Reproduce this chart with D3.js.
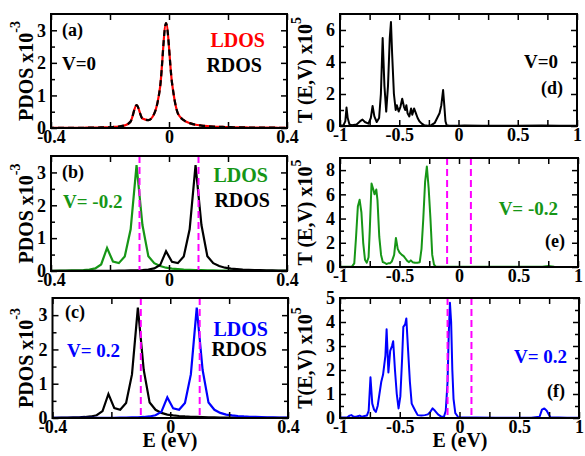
<!DOCTYPE html>
<html>
<head>
<meta charset="utf-8">
<script src="https://cdn.jsdelivr.net/npm/d3@7"></script>
<style>
  body { margin: 0; background: #fff; }
  svg text { font-family: "Liberation Serif", "Times New Roman", serif; font-weight: bold; }
</style>
</head>
<body>
<svg></svg>
<script>
// energy grid for the PDOS panels (eV)
var eGrid = [-0.41,-0.39,-0.37,-0.35,-0.33,-0.31,-0.29,-0.27,-0.25,-0.23,-0.21,-0.19,-0.17,-0.15,-0.13,-0.11,-0.09,-0.07,-0.05,-0.03,-0.01,
             0.01,0.03,0.05,0.07,0.09,0.11,0.13,0.15,0.17,0.19,0.21,0.23,0.25,0.27,0.29,0.31,0.33,0.35,0.37,0.39,0.41];

// PDOS x10^-3, V = 0 (LDOS and RDOS coincide)
var ldosA = [0.003,0.004,0.004,0.005,0.006,0.007,0.008,0.01,0.013,0.017,0.022,0.03,0.045,0.08,0.2,0.7,0.29,0.24,0.44,1.27,3.22,
             1.4,0.45,0.24,0.15,0.1,0.075,0.058,0.045,0.036,0.03,0.025,0.021,0.018,0.015,0.013,0.011,0.01,0.009,0.008,0.007,0.006];
var rdosA = [0.003,0.004,0.004,0.005,0.006,0.007,0.008,0.01,0.013,0.017,0.022,0.03,0.045,0.08,0.2,0.7,0.29,0.24,0.44,1.27,3.22,
             1.4,0.45,0.24,0.15,0.1,0.075,0.058,0.045,0.036,0.03,0.025,0.021,0.018,0.015,0.013,0.011,0.01,0.009,0.008,0.007,0.006];

// V = -0.2
var ldosB = [0.007,0.008,0.01,0.013,0.017,0.022,0.03,0.045,0.08,0.2,0.7,0.29,0.24,0.44,1.27,3.22,1.4,0.45,0.24,0.15,0.1,
             0.075,0.058,0.045,0.036,0.03,0.025,0.021,0.018,0.015,0.013,0.011,0.01,0.009,0.008,0.007,0.006,0.006,0.005,0.005,0.004,0.004];
var rdosB = [0.002,0.002,0.002,0.003,0.003,0.003,0.004,0.004,0.005,0.006,0.007,0.008,0.01,0.013,0.017,0.022,0.03,0.045,0.08,0.18,0.6,
             0.28,0.24,0.44,1.27,3.22,1.4,0.45,0.24,0.15,0.1,0.075,0.058,0.045,0.036,0.03,0.025,0.021,0.018,0.015,0.013,0.011];

// V = 0.2
var ldosC = [0.002,0.002,0.002,0.003,0.003,0.003,0.004,0.004,0.005,0.006,0.007,0.008,0.01,0.013,0.017,0.022,0.03,0.045,0.08,0.18,0.6,
             0.28,0.24,0.44,1.27,3.22,1.4,0.45,0.24,0.15,0.1,0.075,0.058,0.045,0.036,0.03,0.025,0.021,0.018,0.015,0.013,0.011];
var rdosC = [0.007,0.008,0.01,0.013,0.017,0.022,0.03,0.045,0.08,0.2,0.7,0.29,0.24,0.44,1.27,3.22,1.4,0.45,0.24,0.15,0.1,
             0.075,0.058,0.045,0.036,0.03,0.025,0.021,0.018,0.015,0.013,0.011,0.01,0.009,0.008,0.007,0.006,0.006,0.005,0.005,0.004,0.004];

// transmission T(E,V) x10^5 as [E, T]
var transD = [[-1,0.02],[-0.97,0.05],[-0.955,0.3],[-0.945,1.15],[-0.935,0.5],[-0.92,0.1],[-0.9,0.05],[-0.86,0.1],[-0.83,0.3],[-0.81,0.4],
  [-0.79,0.25],[-0.76,0.15],[-0.74,0.5],[-0.725,1.25],[-0.71,0.6],[-0.69,0.25],[-0.67,0.5],[-0.655,2.0],[-0.64,5.5],[-0.625,2.5],
  [-0.61,0.9],[-0.595,2.5],[-0.58,5.5],[-0.57,6.5],[-0.56,4.5],[-0.545,2.0],[-0.53,1.0],[-0.52,1.3],[-0.505,0.9],[-0.49,1.2],
  [-0.475,1.7],[-0.46,1.2],[-0.45,1.0],[-0.44,1.3],[-0.43,0.8],[-0.415,0.6],[-0.4,1.1],[-0.39,0.7],[-0.375,1.1],[-0.36,0.8],
  [-0.345,0.5],[-0.33,0.3],[-0.31,0.15],[-0.29,0.05],[-0.26,0.02],[-0.23,0.05],[-0.2,0.2],[-0.18,0.5],[-0.16,0.8],[-0.145,1.3],
  [-0.13,2.25],[-0.12,1.3],[-0.11,0.3],[-0.1,0.05],[-0.08,0.02],[0,0.02],[0.05,0.03],[0.2,0.01],[0.5,0.01],[0.7,0.03],[0.85,0.02],[1,0.01]];

var transE = [[-1,0.02],[-0.9,0.03],[-0.88,0.3],[-0.865,2.5],[-0.85,5.0],[-0.835,5.55],[-0.82,4.5],[-0.805,2.0],[-0.79,0.6],[-0.775,0.35],
  [-0.76,0.8],[-0.75,3.0],[-0.735,6.9],[-0.72,6.4],[-0.71,6.0],[-0.695,6.4],[-0.685,5.5],[-0.67,2.5],[-0.655,1.0],[-0.64,0.4],
  [-0.625,0.35],[-0.61,0.25],[-0.595,0.3],[-0.58,0.3],[-0.565,0.45],[-0.545,1.0],[-0.53,2.4],[-0.515,1.5],[-0.5,1.2],[-0.48,1.0],
  [-0.465,0.9],[-0.45,0.7],[-0.435,0.5],[-0.42,0.4],[-0.405,0.55],[-0.39,0.4],[-0.37,0.35],[-0.35,0.35],[-0.33,0.4],[-0.315,1.5],
  [-0.3,4.0],[-0.285,7.0],[-0.27,8.3],[-0.255,6.5],[-0.24,4.0],[-0.225,1.0],[-0.21,0.2],[-0.195,0.02],[0,0.02],[0.5,0.02],
  [0.7,0.03],[0.75,0.08],[0.8,0.02],[1,0.01]];

var transF = [[-1,0.02],[-0.94,0.02],[-0.92,0.1],[-0.905,0.12],[-0.885,0.05],[-0.86,0.06],[-0.835,0.1],[-0.815,0.05],[-0.795,0.08],
  [-0.775,0.1],[-0.76,0.3],[-0.745,1.7],[-0.73,0.6],[-0.715,0.35],[-0.7,0.25],[-0.685,0.5],[-0.67,1.0],[-0.655,1.5],[-0.64,1.8],
  [-0.62,2.6],[-0.61,3.7],[-0.595,1.9],[-0.58,2.8],[-0.565,3.0],[-0.555,3.2],[-0.54,2.0],[-0.525,1.0],[-0.51,0.4],[-0.495,0.9],
  [-0.48,2.5],[-0.47,3.8],[-0.455,3.9],[-0.445,4.15],[-0.43,2.8],[-0.415,1.5],[-0.4,0.6],[-0.385,0.45],[-0.37,0.3],[-0.35,0.12],
  [-0.32,0.1],[-0.29,0.12],[-0.265,0.15],[-0.245,0.25],[-0.225,0.4],[-0.205,0.3],[-0.18,0.15],[-0.15,0.05],[-0.13,0.05],
  [-0.115,0.3],[-0.1,1.5],[-0.09,3.5],[-0.08,4.8],[-0.07,4.0],[-0.06,2.0],[-0.05,0.8],[-0.035,0.2],[-0.01,0.03],[0.3,0.01],
  [0.6,0.01],[0.67,0.05],[0.69,0.35],[0.71,0.4],[0.73,0.3],[0.76,0.03],[0.9,0.01],[1,0.01]];

// bias window edges (eV)
var biasLines = [-0.1, 0.1];

// tick values
var pdosXTicks = [-0.4, 0, 0.4], pdosXMinor = [-0.2, 0.2];
var pdosYTicks = [0, 1, 2, 3], pdosYMinor = [0.5, 1.5, 2.5];
var transXTicks = [-1, -0.5, 0, 0.5, 1], transXMinor = [-0.75, -0.25, 0.25, 0.75];

var green = "#169616", blue = "#0000ff", red = "#ff0000", magenta = "#ff00ff";

var svg = d3.select("svg").attr("width", 585).attr("height", 456);

var panels = [
  { id: "a", box: [51, 287, 14, 128], xd: [-0.4, 0.4], yd: [0, 3.5], xt: pdosXTicks, xm: pdosXMinor, yt: pdosYTicks, ym: pdosYMinor,
    smooth: true, bias: false,
    series: [ { x: eGrid, y: ldosA, color: red }, { x: eGrid, y: rdosA, color: "#000", dash: "6,4" } ],
    texts: [ ["(a)", 62, 36, "start", "#000", 18], ["V=0", 62, 70, "start", "#000", 19],
             ["LDOS", 265, 47, "end", red, 20], ["RDOS", 262, 72, "end", "#000", 20] ] },
  { id: "b", box: [51, 287, 156, 271], xd: [-0.4, 0.4], yd: [0, 3.5], xt: pdosXTicks, xm: pdosXMinor, yt: pdosYTicks, ym: pdosYMinor,
    bias: true,
    series: [ { x: eGrid, y: ldosB, color: green }, { x: eGrid, y: rdosB, color: "#000" } ],
    texts: [ ["(b)", 62, 178, "start", "#000", 18], ["V= -0.2", 63, 208, "start", green, 19],
             ["LDOS", 268, 182, "end", green, 20], ["RDOS", 270, 207, "end", "#000", 20] ] },
  { id: "c", box: [52.5, 288, 298, 418], xd: [-0.4, 0.4], yd: [0, 3.5], xt: pdosXTicks, xm: pdosXMinor, yt: pdosYTicks, ym: pdosYMinor,
    bias: true,
    series: [ { x: eGrid, y: rdosC, color: "#000" }, { x: eGrid, y: ldosC, color: blue } ],
    texts: [ ["(c)", 65, 318, "start", "#000", 18], ["V= 0.2", 67, 357, "start", blue, 19],
             ["LDOS", 268, 336, "end", blue, 20], ["RDOS", 267, 356, "end", "#000", 20] ] },
  { id: "d", box: [340, 577, 14, 126], xd: [-1, 1], yd: [0, 7], xt: transXTicks, xm: transXMinor, yt: [0, 2, 4, 6], ym: [1, 3, 5],
    bias: false, pairs: transD, color: "#000",
    texts: [ ["V=0", 558, 68, "end", "#000", 19], ["(d)", 563, 94, "end", "#000", 18] ] },
  { id: "e", box: [340, 578, 158, 267], xd: [-1, 1], yd: [0, 9], xt: transXTicks, xm: transXMinor, yt: [0, 2, 4, 6, 8], ym: [1, 3, 5, 7],
    bias: true, pairs: transE, color: green,
    texts: [ ["V= -0.2", 558, 215, "end", green, 19], ["(e)", 565, 247, "end", "#000", 18] ] },
  { id: "f", box: [340, 579, 298, 418], xd: [-1, 1], yd: [0, 5], xt: transXTicks, xm: transXMinor, yt: [0, 1, 2, 3, 4, 5], ym: [0.5, 1.5, 2.5, 3.5, 4.5],
    bias: true, pairs: transF, color: blue,
    texts: [ ["V= 0.2", 567, 363, "end", blue, 19], ["(f)", 565, 397, "end", "#000", 18] ] }
];

function fmt(d) { return String(d); }

panels.forEach(function(p) {
  var x0 = p.box[0], x1 = p.box[1], y0 = p.box[2], y1 = p.box[3];
  var x = d3.scaleLinear().domain(p.xd).range([x0, x1]);
  var y = d3.scaleLinear().domain(p.yd).range([y1, y0]);
  var g = svg.append("g").attr("id", "panel-" + p.id);

  g.append("clipPath").attr("id", "clip-" + p.id)
    .append("rect").attr("x", x0).attr("y", y0).attr("width", x1 - x0).attr("height", y1 - y0);

  var plot = g.append("g").attr("clip-path", "url(#clip-" + p.id + ")");

  // curves
  var line = d3.line()
      .x(function(d) { return x(d[0]); })
      .y(function(d) { return y(d[1]); })
      .curve(p.smooth ? d3.curveMonotoneX : d3.curveLinear);

  if (p.series) {
    p.series.forEach(function(s) {
      plot.append("path")
        .datum(s.x.map(function(e, i) { return [e, s.y[i]]; }))
        .attr("fill", "none")
        .attr("stroke", s.color)
        .attr("stroke-width", 2.2)
        .attr("stroke-dasharray", s.dash || null)
        .attr("d", line);
    });
  } else {
    plot.append("path")
      .datum(p.pairs)
      .attr("fill", "none")
      .attr("stroke", p.color)
      .attr("stroke-width", 2)
      .attr("stroke-linejoin", "round")
      .attr("d", line);
  }

  // bias window
  if (p.bias) {
    plot.selectAll("line.bias").data(biasLines).enter().append("line")
      .attr("class", "bias")
      .attr("x1", function(d) { return x(d); }).attr("x2", function(d) { return x(d); })
      .attr("y1", y0).attr("y2", y1)
      .attr("stroke", magenta).attr("stroke-width", 2)
      .attr("stroke-dasharray", "7,4");
  }

  // axes, ticks inward on all four sides
  function addAxis(axis, tx, ty, vals, size, labels) {
    var a = g.append("g").attr("transform", "translate(" + tx + "," + ty + ")")
      .call(axis.tickValues(vals).tickSize(size).tickPadding(labels ? 4 : 0)
        .tickFormat(labels ? fmt : function() { return ""; }));
    a.select(".domain").remove();
    a.selectAll("line").attr("stroke", "#000").attr("stroke-width", 1.5);
    a.selectAll("text").style("font-size", "18px").attr("fill", "#000");
    return a;
  }
  var bx = addAxis(d3.axisBottom(x), 0, y1, p.xt, -6, true);
  bx.selectAll("text").attr("y", 2);
  addAxis(d3.axisBottom(x), 0, y1, p.xm, -6, false);
  addAxis(d3.axisTop(x), 0, y0, p.xt, -6, false);
  addAxis(d3.axisTop(x), 0, y0, p.xm, -6, false);
  var ly = addAxis(d3.axisLeft(y), x0, 0, p.yt, -6, true);
  ly.selectAll("text").attr("x", -5);
  addAxis(d3.axisLeft(y), x0, 0, p.ym, -4, false);
  addAxis(d3.axisRight(y), x1, 0, p.yt, -6, false);
  addAxis(d3.axisRight(y), x1, 0, p.ym, -4, false);

  // frame
  g.append("rect")
    .attr("x", x0).attr("y", y0).attr("width", x1 - x0).attr("height", y1 - y0)
    .attr("fill", "none").attr("stroke", "#000").attr("stroke-width", 2);

  // in-panel labels
  p.texts.forEach(function(t) {
    g.append("text")
      .attr("x", t[1]).attr("y", t[2])
      .attr("text-anchor", t[3])
      .attr("fill", t[4])
      .style("font-size", t[5] + "px")
      .text(t[0]);
  });

  // y axis title with superscript
  var left = p.id === "a" || p.id === "b" || p.id === "c";
  var tx = left ? 33 : 312;
  var ty = (y0 + y1) / 2;
  var title = g.append("text")
    .attr("transform", "translate(" + tx + "," + ty + ") rotate(-90)")
    .attr("text-anchor", "middle")
    .style("font-size", "20px");
  title.append("tspan").text(left ? "PDOS x10" : (p.id === "f" ? "T(E,V) x10" : "T (E,V) x10"));
  title.append("tspan").attr("dy", left ? -13 : -11).style("font-size", "14px").text(left ? "-3" : "5");
});

// x axis titles
svg.selectAll("text.xtitle").data([170, 460]).enter().append("text")
  .attr("class", "xtitle")
  .attr("x", function(d) { return d; })
  .attr("y", 447)
  .attr("text-anchor", "middle")
  .style("font-size", "20px")
  .text("E (eV)");
</script>
</body>
</html>
